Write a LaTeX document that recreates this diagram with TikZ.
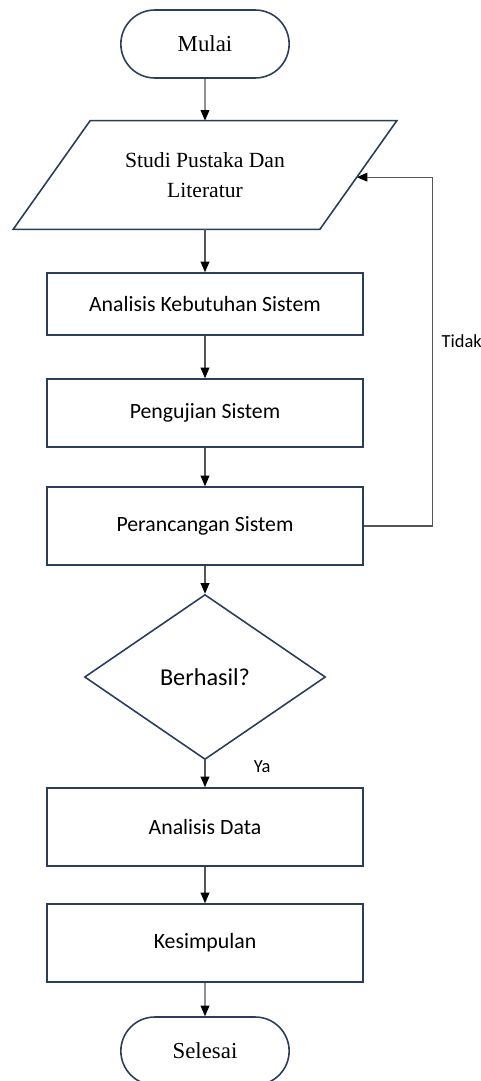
\documentclass[tikz,border=0pt]{standalone}
\usepackage{fontspec}
\setmainfont{Liberation Serif}
\setsansfont{Carlito}
\usepackage{xcolor}
\usetikzlibrary{shapes.geometric,shapes.misc,arrows.meta,positioning,calc}

\definecolor{garis}{HTML}{2B3D5B}
\definecolor{panah}{HTML}{555555}

\begin{document}
\begin{tikzpicture}[
  terminal/.style={rounded rectangle, draw=garis, line width=0.9pt, minimum width=3.6cm, minimum height=1.36cm, font=\fontsize{13}{15}\selectfont},
  masukan/.style={rectangle, minimum width=7.66cm, minimum height=2.16cm, align=center, font=\fontsize{12.3}{17.5}\selectfont},
  block/.style={rectangle, draw=garis, line width=0.9pt, minimum width=6.32cm, minimum height=1.56cm, font=\sffamily\fontsize{12.4}{14}\selectfont},
  putusan/.style={diamond, draw=garis, line width=0.9pt, minimum width=4.82cm, minimum height=3.3cm, inner sep=0pt, font=\sffamily\fontsize{13.8}{16}\selectfont},
  line/.style={draw=panah, line width=0.6pt, -{Triangle[width=5pt,length=6pt,color=black]}},
  ket/.style={font=\sffamily\fontsize{10.5}{12}\selectfont},
  node distance=2.6cm
]
\useasboundingbox (-4.1,0.88) rectangle (5.52,-20.74);

\node[terminal] (mulai) {Mulai};
\node[masukan, below of=mulai, node distance=2.62cm] (studi) {Studi Pustaka Dan\\Literatur};
\node[block, below of=studi, node distance=2.58cm, minimum height=1.24cm] (analisis) {Analisis Kebutuhan Sistem};
\node[block, below of=analisis, node distance=2.18cm, minimum height=1.36cm] (uji) {Pengujian Sistem};
\node[block, below of=uji, node distance=2.26cm] (rancang) {Perancangan Sistem};
\node[putusan, below of=rancang, node distance=3.02cm] (cek) {Berhasil?};
\node[block, below of=cek, node distance=3.0cm] (data) {Analisis Data};
\node[block, below of=data, node distance=2.32cm] (simpul) {Kesimpulan};
\node[terminal, below of=simpul, node distance=2.16cm] (selesai) {Selesai};

% jajaran genjang untuk input
\coordinate (sudutkanan) at ($(studi.south east)+(-1.54,0)$);
\draw[garis, line width=0.9pt] (studi.south west) -- ($(studi.north west)+(1.54,0)$) -- (studi.north east) -- (sudutkanan) -- cycle;

\coordinate[right=1.38cm of rancang.east] (balik);
\coordinate (masuk) at ($(sudutkanan)!0.48!(studi.north east)$);

\draw[line] (mulai) -- (studi);
\draw[line] (studi) -- (analisis);
\draw[line] (analisis) -- (uji);
\draw[line] (uji) -- (rancang);
\draw[line] (rancang) -- (cek);
\draw[line] (cek) -- node[ket, pos=0.25, anchor=west, xshift=0.85cm] (ya) {Ya} (data);
\draw[line] (data) -- (simpul);
\draw[line] (simpul) -- (selesai);
\draw[line] (rancang.east) -- (balik) |- node[ket, pos=0.265, right=0.05cm] (tidak) {Tidak} (masuk);
\end{tikzpicture}
\end{document}
